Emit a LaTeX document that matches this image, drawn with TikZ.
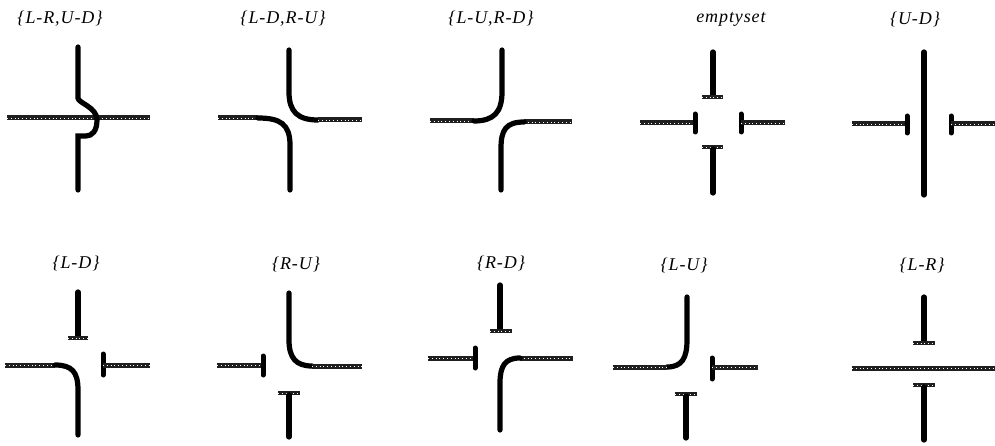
\documentclass[tikz,border=0pt]{standalone}
\usepackage{fontspec}
\setmainfont{Liberation Serif}
\newfontfamily\lblfont[LetterSpace=5]{Liberation Serif}
\begin{document}
\begin{tikzpicture}[x=1pt,y=-1pt,
  blk/.style={line width=5.2pt,line cap=round,black},
  bar/.style={line width=5pt,line cap=round,black},
  gry/.style={line width=5pt,color=black!88,
    postaction={draw=white,line width=0.6pt,dash pattern=on 0.6pt off 3.2pt}},
  tbar/.style={line width=4.8pt,color=black!88,
    postaction={draw=white,line width=0.6pt,dash pattern=on 0.6pt off 3.2pt}},
  lbl/.style={font=\lblfont\fontsize{18}{21}\selectfont\itshape,inner sep=0pt}]
\useasboundingbox (0,0) rectangle (995,446);

% ---------- labels ----------
\node[lbl] (t1) at (60,19) {\{L-R,U-D\}};
\node[lbl] (t2) at (283,19) {\{L-D,R-U\}};
\node[lbl] (t3) at (491,19) {\{L-U,R-D\}};
\node[lbl] (t4) at (731,19) {emptyset};
\node[lbl] (t5) at (915,19) {\{U-D\}};
\node[lbl] (t6) at (76,263) {\{L-D\}};
\node[lbl] (t7) at (296,264) {\{R-U\}};
\node[lbl] (t8) at (501,263) {\{R-D\}};
\node[lbl] (t9) at (684,265) {\{L-U\}};
\node[lbl] (t10) at (922,265) {\{L-R\}};

% ---------- panel 1 {L-R,U-D} ----------
\draw[gry] (7,118) -- (150,118);
\draw[blk] (78,47) -- (78,98) .. controls (78,103) and (97,107) .. (97,120)
  .. controls (97,131) and (92,136) .. (86,136) -- (78,136) -- (78,190);

% ---------- panel 2 {L-D,R-U} ----------
\draw[gry] (218,118) -- (258,118);
\draw[blk] (258,118) .. controls (280,118) and (290,124) .. (290,145) -- (290,190);
\draw[blk] (289,50) -- (289,92) .. controls (289,112) and (298,120) .. (318,120);
\draw[gry] (318,120) -- (362,120);

% ---------- panel 3 {L-U,R-D} ----------
\draw[gry] (430,121) -- (474,121);
\draw[blk] (502,50) -- (502,92) .. controls (502,112) and (494,121) .. (474,121);
\draw[gry] (524,122) -- (572,122);
\draw[blk] (524,122) .. controls (506,122) and (501,130) .. (501,148) -- (501,190);

% ---------- panel 4 emptyset ----------
\draw[blk] (713,52) -- (713,95);
\draw[tbar] (702,97) -- (723,97);
\draw[gry] (640,123) -- (695,123);
\draw[bar] (695,114) -- (695,132);
\draw[bar] (741,114) -- (741,132);
\draw[gry] (741,123) -- (785,123);
\draw[tbar] (702,147) -- (723,147);
\draw[blk] (713,149) -- (713,193);

% ---------- panel 5 {U-D} ----------
\draw[blk] (924,52) -- (924,195);
\draw[gry] (852,124) -- (907,124);
\draw[bar] (907,116) -- (907,133);
\draw[bar] (951,116) -- (951,133);
\draw[gry] (951,124) -- (995,124);

% ---------- panel 6 {L-D} ----------
\draw[blk] (78,292) -- (78,336);
\draw[tbar] (68,338) -- (88,338);
\draw[gry] (5,365) -- (55,365);
\draw[blk] (55,365) .. controls (72,365) and (78,372) .. (78,390) -- (78,435);
\draw[bar] (103,354) -- (103,375);
\draw[gry] (103,365) -- (150,365);

% ---------- panel 7 {R-U} ----------
\draw[blk] (289,293) -- (289,340) .. controls (289,358) and (296,366) .. (312,366);
\draw[gry] (312,366) -- (362,366);
\draw[gry] (217,365) -- (263,365);
\draw[bar] (263,356) -- (263,375);
\draw[tbar] (278,393) -- (300,393);
\draw[blk] (289,395) -- (289,437);

% ---------- panel 8 {R-D} ----------
\draw[blk] (500,285) -- (500,329);
\draw[tbar] (490,331) -- (512,331);
\draw[gry] (428,358) -- (475,358);
\draw[bar] (475,348) -- (475,368);
\draw[gry] (520,358) -- (573,358);
\draw[blk] (520,358) .. controls (505,358) and (500,366) .. (500,383) -- (500,430);

% ---------- panel 9 {L-U} ----------
\draw[blk] (687,297) -- (687,340) .. controls (687,358) and (682,367) .. (667,367);
\draw[gry] (613,367) -- (667,367);
\draw[bar] (712,358) -- (712,379);
\draw[gry] (712,367) -- (758,367);
\draw[tbar] (675,394) -- (697,394);
\draw[blk] (686,396) -- (686,438);

% ---------- panel 10 {L-R} ----------
\draw[blk] (924,297) -- (924,341);
\draw[tbar] (913,343) -- (935,343);
\draw[gry] (852,368) -- (995,368);
\draw[tbar] (913,385) -- (935,385);
\draw[blk] (924,387) -- (924,440);
\end{tikzpicture}
\end{document}
